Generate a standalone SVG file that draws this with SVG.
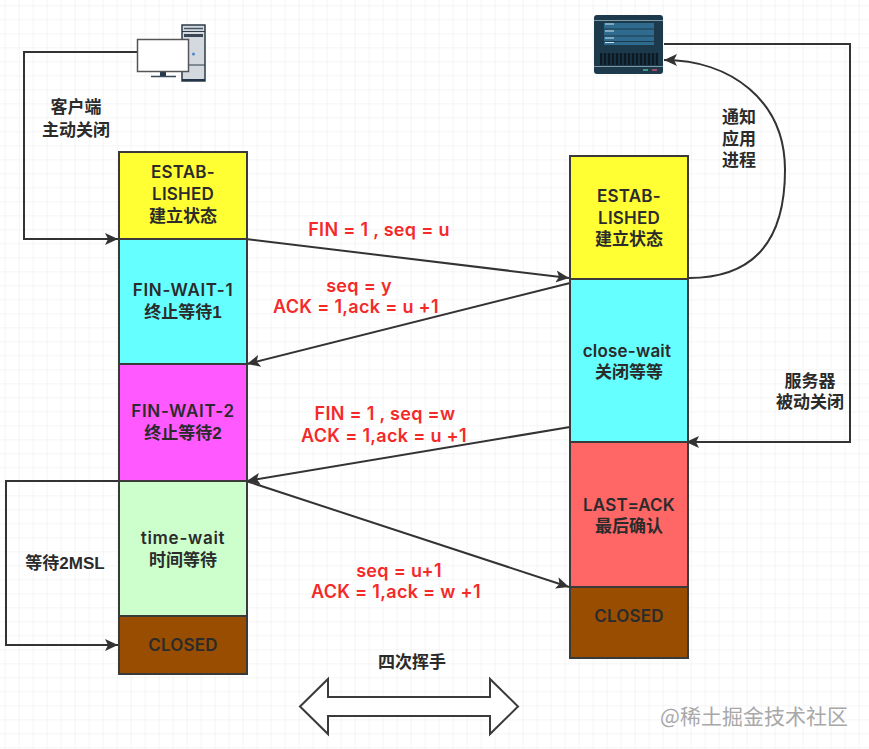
<svg xmlns="http://www.w3.org/2000/svg" width="869" height="749" viewBox="0 0 869 749">
<style>
.box{stroke:#3a3a3a;stroke-width:2}
.lb{font-family:"Liberation Sans","Noto Sans CJK SC",sans-serif;font-size:17px;font-weight:700;fill:#2b2b2b;text-anchor:middle}
.en{font-family:"Inter","Noto Sans CJK SC",sans-serif;font-size:17px;font-weight:600;letter-spacing:.2px}
.wd{letter-spacing:.7px}
.rd{font-family:"Inter","Noto Sans CJK SC",sans-serif;font-size:18px;font-weight:600;fill:#f42a2a;text-anchor:middle;letter-spacing:.3px}
.ln{fill:none;stroke:#333;stroke-width:2}
</style>
<defs>
<pattern id="g" width="14" height="14" patternUnits="userSpaceOnUse" x="4.7" y="5.3"><path d="M0 0H14M0 0V14" fill="none" stroke="#ebebeb" stroke-width="1"/></pattern>
<marker id="a" markerUnits="userSpaceOnUse" markerWidth="14" markerHeight="12" refX="13" refY="6" orient="auto"><path d="M0 0L13 6L0 12L3 6Z" fill="#333"/></marker>
</defs>
<rect width="869" height="749" fill="#fff"/>
<rect width="869" height="749" fill="url(#g)"/>
<g id="connectors">
<path class="ln" d="M137 52H24V239H118" marker-end="url(#a)"/>
<path class="ln" d="M664 44H850V442H686" marker-end="url(#a)"/>
<path class="ln" d="M689 278C770 278 785 220 785 170C785 100 730 60 664 60" marker-end="url(#a)"/>
<path class="ln" d="M246 239L569 278" marker-end="url(#a)"/>
<path class="ln" d="M570 283L247 364" marker-end="url(#a)"/>
<path class="ln" d="M570 427L247 481" marker-end="url(#a)"/>
<path class="ln" d="M246 481L569 587" marker-end="url(#a)"/>
<path class="ln" d="M119 481H6V645H118" marker-end="url(#a)"/>
</g>
<g id="client-icon">
<rect x="182" y="25" width="23" height="56" fill="#d3d9de" stroke="#2d3b4a" stroke-width="1.500"/>
<path d="M182 31.500H205" stroke="#2d3b4a"/><path d="M184 28.500H203" stroke="#4a5663" stroke-width="1.500"/>
<rect x="184" y="34" width="19" height="3" fill="#3b4654"/>
<circle cx="193.500" cy="54" r="1.500" fill="#4a86c8"/>
<path d="M182 65H205" stroke="#2d3b4a"/><path d="M182 80H205" stroke="#22344a" stroke-width="2"/>
<rect x="160" y="71" width="6" height="5" fill="#25384a"/>
<path d="M151 76.500H176" stroke="#3b4a5c" stroke-width="1.500"/>
<rect x="137.500" y="39.500" width="51" height="32" fill="#fff" stroke="#555" stroke-width="1.500"/>
</g>
<g id="server-icon">
<rect x="594" y="15" width="69" height="59" rx="3" fill="#1d3a4d"/>
<path d="M594 20.500H663M594 66.500H663" stroke="#7d99a6" stroke-width="1"/>
<rect x="604" y="23" width="50" height="22" fill="#2f6b8e"/>
<path d="M605 24.500H614M605 31.500H614M605 38.500H614M605 43H614" stroke="#cfe3ee" stroke-width="1.200" transform="translate(0 -0.500)"/>
<path d="M604 29H654M604 36H654M604 41.500H654" stroke="#1d3a4d" stroke-width="1"/>
<path d="M600 53H658V65H600Z" fill="#0d1a22"/>
<path d="M603 53V65M607 53V65M611 53V65M615 53V65M619 53V65M623 53V65M627 53V65M631 53V65M635 53V65M639 53V65M643 53V65M647 53V65M651 53V65M655 53V65" stroke="#1d3a4d" stroke-width="1.500"/>
<path d="M643 70H648" stroke="#3f9a7f" stroke-width="2"/><path d="M652 70H657" stroke="#a04a66" stroke-width="2"/>
</g>
<g id="client-established"><rect class="box" x="119" y="152" width="128" height="87" fill="#ffff33"/><text class="lb en" x="183" y="178">ESTAB-</text><text class="lb en" x="183" y="200">LISHED</text><text class="lb" x="183" y="222">建立状态</text></g>
<g id="fin-wait-1"><rect class="box" x="119" y="239" width="128" height="125" fill="#66ffff"/><text class="lb en wd" x="183" y="296">FIN-WAIT-1</text><text class="lb" x="183" y="318">终止等待1</text></g>
<g id="fin-wait-2"><rect class="box" x="119" y="364" width="128" height="117" fill="#ff59ff"/><text class="lb en wd" x="183" y="417">FIN-WAIT-2</text><text class="lb" x="183" y="439">终止等待2</text></g>
<g id="time-wait"><rect class="box" x="119" y="481" width="128" height="135" fill="#ccffcc"/><text class="lb en wd" x="183" y="544">time-wait</text><text class="lb" x="183" y="566">时间等待</text></g>
<g id="client-closed"><rect class="box" x="119" y="616" width="128" height="58" fill="#994d00"/><text class="lb en" x="183" y="651">CLOSED</text></g>
<g id="server-established"><rect class="box" x="570" y="156" width="118" height="123" fill="#ffff33"/><text class="lb en" x="629" y="202">ESTAB-</text><text class="lb en" x="629" y="224">LISHED</text><text class="lb" x="629" y="245">建立状态</text></g>
<g id="close-wait"><rect class="box" x="570" y="279" width="118" height="163" fill="#66ffff"/><text class="lb en" x="627" y="357">close-wait</text><text class="lb" x="629" y="378">关闭等等</text></g>
<g id="last-ack"><rect class="box" x="570" y="442" width="118" height="145" fill="#ff6666"/><text class="lb en" x="629" y="511">LAST=ACK</text><text class="lb" x="629" y="532">最后确认</text></g>
<g id="server-closed"><rect class="box" x="570" y="587" width="118" height="71" fill="#994d00"/><text class="lb en" x="629" y="622">CLOSED</text></g>
<g id="labels">
<text class="lb" x="76" y="113">客户端</text><text class="lb" x="76" y="136">主动关闭</text>
<text class="lb" x="739" y="123">通知</text><text class="lb" x="739" y="145">应用</text><text class="lb" x="739" y="166">进程</text>
<text class="lb" x="810" y="387">服务器</text><text class="lb" x="810" y="408">被动关闭</text>
<text class="lb" x="65" y="569">等待2MSL</text>
<text class="lb" x="412" y="668">四次挥手</text>
<text class="rd" x="379" y="236">FIN = 1 , seq = u</text>
<text class="rd" x="359" y="292">seq = y</text><text class="rd" x="356" y="313">ACK = 1,ack = u +1</text>
<text class="rd" x="385" y="420">FIN = 1 , seq =w</text><text class="rd" x="384" y="442">ACK = 1,ack = u +1</text>
<text class="rd" x="399" y="577">seq = u+1</text><text class="rd" x="396" y="598">ACK = 1,ack = w +1</text>
</g>
<g id="double-arrow"><path d="M300 706.500L328 679V697H490V679L518 706.500L490 734V716H328V734Z" fill="#fff" stroke="#3a3a3a" stroke-width="2"/></g>
<text x="754" y="724" text-anchor="middle" font-family="Noto Sans CJK SC,sans-serif" font-size="21" fill="#a8a8a8">@稀土掘金技术社区</text>
</svg>
